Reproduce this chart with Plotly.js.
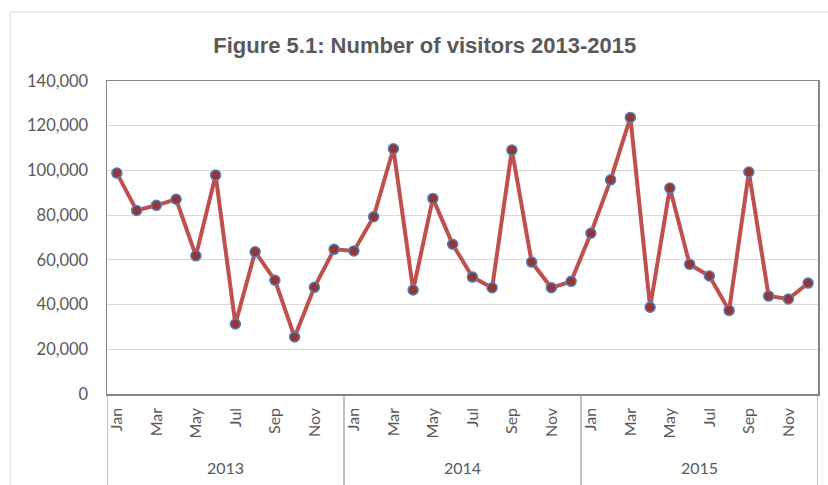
<!DOCTYPE html>
<html>
<head>
<meta charset="utf-8">
<script src="https://cdn.plot.ly/plotly-3.0.1.min.js"></script>
<style>
  html, body { margin: 0; padding: 0; background: #fff; }
  #chart { width: 828px; height: 485px; }
</style>
</head>
<body>
<div id="chart"></div>
<script>
const years = ["2013", "2014", "2015"];
const months = ["Jan","Feb","Mar","Apr","May","Jun","Jul","Aug","Sep","Oct","Nov","Dec"];
const visitors2013 = [98800, 82100, 84400, 87100, 61800, 97900, 31300, 63600, 50900, 25500, 47700, 64700];
const visitors2014 = [64000, 79300, 109700, 46500, 87500, 67000, 52300, 47500, 109100, 59000, 47500, 50400];
const visitors2015 = [71900, 95800, 123700, 38800, 92100, 58000, 52800, 37400, 99300, 43800, 42500, 49600];
const titleText = "Figure 5.1: Number of visitors 2013-2015";

const values = visitors2013.concat(visitors2014, visitors2015);
const xIdx = values.map((_, i) => i);
const tickVals = xIdx.filter(i => i % 2 === 0);
const tickText = tickVals.map(i => months[i % 12]);

const trace = {
  x: xIdx,
  y: values,
  type: "scatter",
  mode: "lines+markers",
  line: { color: "#C0504D", width: 4 },
  marker: { size: 10, color: "#943634", line: { color: "#4F81BD", width: 1.5 } },
  hoverinfo: "y"
};

const n = months.length;
const shapes = [];
for (let g = 0; g <= years.length; g++) {
  shapes.push({
    type: "line", xref: "x", yref: "paper",
    x0: g * n - 0.5, x1: g * n - 0.5, y0: 0, y1: -0.32,
    line: { color: "#868686", width: 1 }
  });
}
// outer chart border
shapes.push({
  type: "rect", xref: "paper", yref: "paper",
  x0: (10 - 107) / 711, x1: 1.05, y0: -0.35, y1: (394 - 12) / 313,
  line: { color: "#D9D9D9", width: 1 }, layer: "below"
});

const annotations = years.map((yr, g) => ({
  text: yr, xref: "x", yref: "paper",
  x: g * n + (n - 1) / 2, y: (394 - 467) / 313,
  showarrow: false, yanchor: "middle", xanchor: "center",
  font: { family: "Lato, sans-serif", size: 16, color: "#595959" }
}));

const layout = {
  width: 828, height: 485,
  margin: { l: 107, r: 10, t: 81, b: 91, pad: 0 },
  paper_bgcolor: "#ffffff", plot_bgcolor: "#ffffff",
  showlegend: false,
  title: {
    text: "<b>" + titleText + "</b>",
    x: 0.513, xanchor: "center", y: 1 - 45 / 485, yanchor: "middle",
    font: { family: "Liberation Sans, Arial, sans-serif", size: 22, color: "#595959" }
  },
  xaxis: {
    type: "linear", range: [-0.5, values.length - 0.5],
    tickmode: "array", tickvals: tickVals, ticktext: tickText,
    tickangle: -90, showgrid: false, zeroline: false,
    showline: true, linecolor: "#868686", linewidth: 1.5, mirror: true,
    ticks: "", ticklabelstandoff: 6,
    tickfont: { family: "Lato, sans-serif", size: 16, color: "#595959" }
  },
  yaxis: {
    range: [0, 140000], dtick: 20000, tickformat: ",d",
    showgrid: true, gridcolor: "#D9D9D9", gridwidth: 1,
    zeroline: false, showline: true, linecolor: "#868686", linewidth: 1.5, mirror: true,
    ticks: "", ticklabelstandoff: 14,
    tickfont: { family: "Lato, sans-serif", size: 16.5, color: "#595959" }
  },
  shapes: shapes,
  annotations: annotations
};

Plotly.newPlot("chart", [trace], layout, { displayModeBar: false, staticPlot: true });
</script>
</body>
</html>
